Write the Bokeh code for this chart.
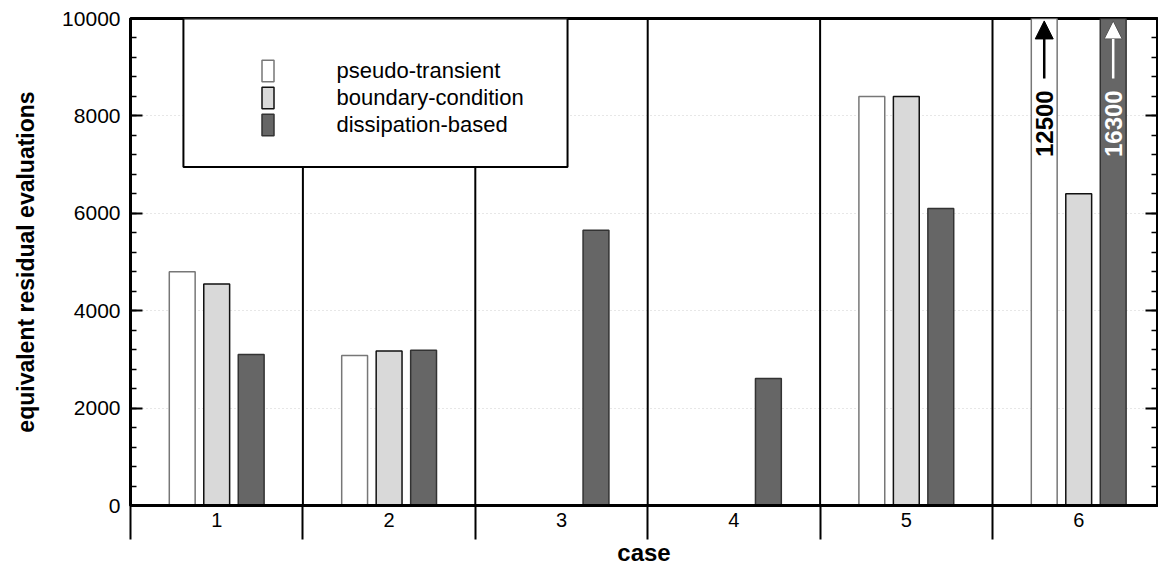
import math
from bokeh.plotting import figure
from bokeh.models import (Range1d, LinearAxis, FixedTicker, SingleIntervalTicker,
                          ColumnDataSource, Legend, LegendItem, BoxAnnotation, Label,
                          Arrow, NormalHead)
from bokeh.embed import file_html
from bokeh.resources import INLINE

# ---------------- data ----------------
cases = ["1", "2", "3", "4", "5", "6"]
case_x = [1, 2, 3, 4, 5, 6]
series_names = ["pseudo-transient", "boundary-condition", "dissipation-based"]
NaN = float("nan")
pseudo_transient = [4800, 3080, NaN, NaN, 8400, 12500]
boundary_condition = [4550, 3170, NaN, NaN, 8400, 6400]
dissipation_based = [3100, 3190, 5650, 2610, 6100, 16300]
y_ticks = [0, 2000, 4000, 6000, 8000, 10000]
y_max = 10000

# ---------------- style ----------------
FONT = "Liberation Sans"
fills = ["#ffffff", "#d9d9d9", "#666666"]
lines = ["#777777", "#111111", "#333333"]
offsets = [-0.2, 0.0, 0.2]
bar_w = 0.15

p = figure(width=1158, height=570,
           x_range=Range1d(0.5, 6.457), y_range=Range1d(0, y_max),
           output_backend="svg", toolbar_location=None,
           min_border_left=130, min_border_right=1, min_border_top=18,
           min_border_bottom=65)
p.background_fill_color = "white"
p.border_fill_color = "white"
p.outline_line_color = "black"
p.outline_line_width = 3

# y axis (left)
yt = SingleIntervalTicker(interval=2000, num_minor_ticks=5)
ya = p.yaxis[0]
ya.ticker = yt
ya.axis_line_width = 3
ya.major_tick_in = 12
ya.major_tick_out = 0
ya.major_tick_line_width = 2
ya.minor_tick_in = 6
ya.minor_tick_out = 0
ya.minor_tick_line_width = 1.5
ya.major_label_text_font = FONT
ya.major_label_text_font_size = "21px"
ya.major_label_text_color = "black"
ya.major_label_standoff = 10
ya.axis_label = "equivalent residual evaluations"
ya.axis_label_text_font = FONT
ya.axis_label_text_font_size = "23px"
ya.axis_label_text_font_style = "bold"
ya.axis_label_text_color = "black"
ya.axis_label_standoff = 20

p.ygrid.ticker = yt
p.ygrid.grid_line_color = "#cfcfcf"
p.ygrid.grid_line_dash = "1 3"
p.xgrid.visible = False

# right axis: ticks only
ra = LinearAxis(ticker=yt, axis_line_width=3, major_tick_in=12, major_tick_out=0,
                major_tick_line_width=2, minor_tick_in=6, minor_tick_out=0,
                minor_tick_line_width=1.5, major_label_standoff=0,
                major_label_overrides={t: "" for t in y_ticks})
p.add_layout(ra, "right")

# x axis (bottom): labels at case centers, boundary lines as minor ticks
xa = p.xaxis[0]
xa.ticker = FixedTicker(ticks=case_x,
                        minor_ticks=[c - 0.5 for c in case_x] + [case_x[-1] + 0.5])
xa.major_label_overrides = {x: c for x, c in zip(case_x, cases)}
xa.axis_line_width = 3
xa.major_tick_line_color = None
xa.major_tick_in = 0
xa.major_tick_out = 0
xa.minor_tick_in = 0
xa.minor_tick_out = 34
xa.minor_tick_line_width = 2
xa.minor_tick_line_color = "black"
xa.major_label_text_font = FONT
xa.major_label_text_font_size = "20px"
xa.major_label_text_color = "black"
xa.major_label_standoff = -27
xa.axis_label = "case"
xa.axis_label_text_font = FONT
xa.axis_label_text_font_size = "24px"
xa.axis_label_text_font_style = "bold"
xa.axis_label_text_color = "black"
xa.axis_label_standoff = 9

# case separators inside the frame
bounds = [c + 0.5 for c in case_x[:-1]]
p.segment(x0=bounds, y0=[p.y_range.start] * len(bounds), x1=bounds,
          y1=[p.y_range.end] * len(bounds), line_color="black", line_width=2)

# bars
renderers = []
for vals, off, fc, lc in zip([pseudo_transient, boundary_condition, dissipation_based],
                             offsets, fills, lines):
    src = ColumnDataSource(dict(x=[c + off for c in case_x], top=vals))
    r = p.vbar(x="x", top="top", bottom=0, width=bar_w, source=src,
               fill_color=fc, line_color=lc, line_width=1.5)
    renderers.append(r)

# legend frame
box = BoxAnnotation(left=0.807, right=3.035, bottom=6950, top=y_max,
                    fill_color="white", fill_alpha=1.0, line_color="black",
                    line_alpha=1.0, line_width=2)
p.add_layout(box)

legend = Legend(items=[LegendItem(label=n, renderers=[r]) for n, r in zip(series_names, renderers)],
                location=(129.5, 367), padding=0, margin=0, spacing=0,
                glyph_width=15, glyph_height=27, label_height=27, label_standoff=62,
                border_line_color=None, background_fill_alpha=0.0,
                label_text_font=FONT, label_text_font_size="22px",
                label_text_color="black")
p.add_layout(legend, "center")

# off-scale values in case 6
for vals, off, col in [(pseudo_transient, offsets[0], "black"),
                       (dissipation_based, offsets[2], "white")]:
    xc = case_x[5] + off
    p.add_layout(Arrow(x_start=xc, y_start=8770, x_end=xc, y_end=9950,
                       line_color=col, line_width=2.5,
                       end=NormalHead(size=18, fill_color=col,
                                      line_color="#555555" if col == "white" else "black",
                                      line_width=1)))
    p.add_layout(Label(x=xc, y=7840, text=str(vals[5]), angle=math.pi / 2,
                       text_align="center", text_baseline="middle",
                       text_font=FONT, text_font_size="24px", text_font_style="bold",
                       text_color=col))

open("out.html", "w").write(file_html(p, INLINE))
